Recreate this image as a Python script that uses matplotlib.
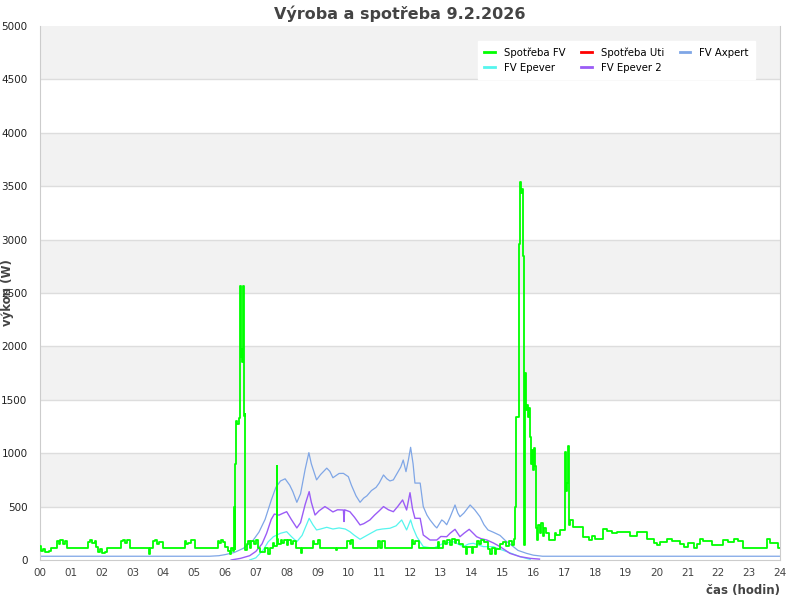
import matplotlib
matplotlib.use('Agg')
import matplotlib.pyplot as plt
from matplotlib.lines import Line2D

# Spotreba FV (hodiny, W) - schodovity prubeh
fv_t = [0.00, 0.03, 0.10, 0.15, 0.30, 0.37, 0.54, 0.60, 0.65, 0.75, 0.80, 0.87,
        1.56, 1.62, 1.70, 1.78, 1.83, 1.88, 1.95, 2.00, 2.10, 2.16,
        2.62, 2.70, 2.75, 2.82, 2.92, 3.55, 3.58, 3.65, 3.72, 3.80, 3.87, 3.99,
        4.70, 4.75, 4.80, 4.90, 5.03, 5.77, 5.82, 5.88, 5.95, 6.00, 6.10, 6.15,
        6.20, 6.27, 6.29, 6.31, 6.33, 6.35, 6.40, 6.45, 6.49, 6.51, 6.52, 6.54,
        6.56, 6.58, 6.59, 6.61, 6.64, 6.66, 6.70, 6.75, 6.80, 6.85, 6.95, 7.00,
        7.07, 7.15, 7.30, 7.40, 7.45, 7.55, 7.60, 7.68, 7.70, 7.72, 7.80, 7.85,
        7.90, 8.00, 8.05, 8.15, 8.20, 8.30, 8.45, 8.50, 8.85, 8.90, 9.00, 9.08,
        9.60, 9.62, 9.95, 10.05, 10.10, 10.16, 10.97, 11.03, 11.10, 11.18,
        12.05, 12.10, 12.15, 12.30, 12.90, 12.95, 13.07, 13.15, 13.20, 13.30,
        13.35, 13.45, 13.50, 13.60, 13.72, 13.80, 13.85, 14.00, 14.05, 14.17,
        14.25, 14.30, 14.40, 14.53, 14.60, 14.65, 14.75, 14.80, 14.92, 15.00,
        15.10, 15.20, 15.30, 15.38, 15.42, 15.45, 15.52, 15.57, 15.60, 15.63,
        15.66, 15.68, 15.70, 15.73, 15.76, 15.79, 15.82, 15.85, 15.90, 15.93,
        15.96, 16.00, 16.02, 16.05, 16.08, 16.10, 16.12, 16.15, 16.20, 16.25,
        16.30, 16.35, 16.40, 16.50, 16.70, 16.75, 16.87, 17.03, 17.05, 17.08,
        17.12, 17.15, 17.20, 17.30, 17.60, 17.80, 17.90, 18.00, 18.27, 18.40,
        18.55, 18.70, 19.14, 19.35, 19.70, 19.90, 20.00, 20.10, 20.33, 20.50,
        20.76, 20.90, 21.00, 21.20, 21.30, 21.40, 21.50, 21.80, 22.15, 22.30,
        22.50, 22.65, 22.80, 23.58, 23.68, 23.95, 24.00]
fv_w = [130, 80, 100, 75, 80, 110, 180, 150, 185, 150, 180, 110,
        170, 185, 160, 175, 120, 75, 100, 70, 75, 110,
        175, 185, 160, 185, 110, 60, 110, 175, 185, 150, 170, 110,
        180, 150, 160, 185, 110, 180, 160, 185, 170, 120, 80, 60,
        110, 80, 500, 100, 900, 1300, 1270, 1330, 2570, 1950, 1900, 1980,
        1850, 2000, 2570, 1350, 1370, 90, 150, 180, 110, 180, 150, 185,
        110, 75, 110, 60, 110, 160, 130, 880, 200, 150, 185, 160,
        190, 140, 185, 150, 180, 110, 70, 110, 180, 150, 185, 110,
        90, 110, 180, 150, 185, 110, 180, 110, 180, 110,
        185, 150, 180, 110, 170, 110, 180, 150, 190, 140,
        200, 160, 185, 150, 125, 60, 125, 70, 125, 180,
        150, 190, 170, 100, 60, 110, 60, 100, 150, 170,
        130, 180, 140, 200, 500, 1340, 2960, 3540, 3440, 3470,
        3450, 2850, 140, 1750, 1400, 1450, 1340, 1420, 1150, 900,
        1030, 840, 1050, 880, 530, 300, 190, 330, 250, 345,
        220, 300, 250, 190, 250, 230, 280, 1010, 650, 720,
        1067, 330, 375, 312, 218, 190, 225, 200, 290, 270,
        250, 260, 225, 260, 195, 160, 140, 170, 200, 180,
        150, 120, 160, 110, 150, 200, 180, 140, 190, 170,
        200, 175, 110, 195, 156, 110, 110]

# FV Axpert
ax_t = [0.0, 5.5, 5.8, 6.0, 6.3, 6.6, 6.9, 7.1, 7.3, 7.5, 7.65, 7.8, 7.95, 8.1,
        8.2, 8.33, 8.45, 8.6, 8.72, 8.8, 8.97, 9.1, 9.3, 9.4, 9.5, 9.6, 9.7,
        9.84, 10.0, 10.1, 10.25, 10.38, 10.5, 10.6, 10.75, 10.9, 11.0, 11.14,
        11.25, 11.35, 11.46, 11.6, 11.7, 11.78, 11.87, 11.95, 12.02, 12.1,
        12.16, 12.33, 12.43, 12.55, 12.65, 12.8, 12.87, 13.03, 13.1, 13.19,
        13.3, 13.46, 13.55, 13.62, 13.75, 13.95, 14.1, 14.27, 14.4, 14.53,
        14.7, 14.92, 15.1, 15.35, 15.5, 15.78, 16.0, 16.3, 24.0]
ax_w = [35, 35, 40, 50, 70, 110, 180, 260, 380, 560, 680, 740, 760, 700,
        640, 540, 620, 850, 1005, 900, 750, 800, 860, 830, 770, 790, 810,
        811, 780, 700, 600, 540, 580, 600, 650, 680, 720, 796,
        760, 740, 750, 820, 870, 936, 827, 940, 1055, 900,
        720, 720, 500, 420, 375, 320, 300, 375, 360, 330,
        400, 515, 440, 405, 440, 515, 470, 405, 330, 281,
        260, 230, 180, 125, 90, 62, 45, 35, 35]

# FV Epever 2
ep2_t = [6.2, 6.5, 6.8, 7.0, 7.2, 7.35, 7.5, 7.6, 7.75, 7.9, 8.0, 8.15, 8.33,
         8.45, 8.6, 8.73, 8.8, 8.92, 9.05, 9.24, 9.35, 9.5, 9.65, 9.84, 9.86,
         9.88, 10.05, 10.2, 10.38, 10.5, 10.7, 10.85, 11.0, 11.14, 11.3, 11.46,
         11.6, 11.76, 11.89, 12.0, 12.08, 12.16, 12.33, 12.43, 12.65, 12.87,
         13.0, 13.19, 13.3, 13.46, 13.62, 13.75, 13.92, 14.05, 14.16, 14.3,
         14.49, 14.7, 14.92, 15.24, 15.57, 15.9, 16.2]
ep2_w = [0, 15, 40, 80, 150, 250, 380, 430, 420, 440, 452, 380, 300,
         350, 520, 640, 540, 421, 460, 500, 480, 450, 470, 468, 360,
         470, 452, 400, 328, 340, 375, 420, 460, 500, 470, 452,
         500, 562, 468, 630, 480, 390, 390, 234, 187, 187,
         220, 218, 250, 287, 218, 250, 287, 250, 218, 200,
         187, 160, 125, 62, 31, 15, 8]

# FV Epever
ep_t = [6.8, 7.0, 7.24, 7.4, 7.57, 7.8, 8.0, 8.15, 8.33, 8.5, 8.73, 8.85, 8.97,
        9.1, 9.3, 9.5, 9.7, 9.9, 10.05, 10.2, 10.38, 10.6, 10.92, 11.1, 11.35,
        11.55, 11.73, 11.89, 12.02, 12.1, 12.22, 12.43, 12.76, 13.08, 13.41,
        13.55, 13.73, 13.9, 14.05, 14.38, 14.7, 14.92, 15.14, 15.57, 15.9]
ep_w = [0, 20, 94, 170, 218, 250, 265, 220, 171, 230, 390, 330, 281,
        290, 306, 290, 300, 290, 265, 230, 194, 230, 281, 290, 297,
        320, 375, 281, 375, 300, 218, 125, 110, 156, 171,
        150, 125, 150, 156, 125, 125, 100, 78, 31, 5]

hodiny = ['%02d' % h for h in range(25)]

c_fv = '#00ff00'
c_uti = '#ff0000'
c_ax = '#7fa6e6'
c_ep = '#55f5ee'
c_ep2 = '#9b5cf6'

fig = plt.figure(figsize=(8, 6), dpi=100)
ax = fig.add_axes([0.05, 0.0667, 0.925, 0.89])

# stridave pruhy pozadi
for k in range(10):
    if k % 2 == 1:
        ax.axhspan(k * 500, (k + 1) * 500, color='#f2f2f2', zorder=0, lw=0)
for k in range(1, 10):
    ax.axhline(k * 500, color='#dddddd', lw=1, zorder=0.5)

ax.plot(ax_t, ax_w, color=c_ax, lw=0.9, zorder=2)
ax.plot(ep_t, ep_w, color=c_ep, lw=0.9, zorder=3)
ax.plot(ep2_t, ep2_w, color=c_ep2, lw=1.0, zorder=4)
ax.step(fv_t, fv_w, where='post', color=c_fv, lw=1.3, zorder=5)

ax.set_xlim(0, 24)
ax.set_ylim(0, 5000)
ax.set_xticks(range(25))
ax.set_xticklabels(hodiny)
ax.set_yticks(range(0, 5001, 500))
ax.tick_params(axis='both', length=0, labelsize=7.5)
ax.tick_params(axis='x', colors='#444444', pad=6)
ax.tick_params(axis='y', colors='#222222', pad=9)

for s in ['left', 'bottom', 'right']:
    ax.spines[s].set_color('#cccccc')
ax.spines['top'].set_visible(False)

ax.set_ylabel('výkon (W)', fontsize=8.5, fontweight='bold', color='#444444')
ax.yaxis.set_label_coords(-0.035, 0.5)
ax.set_xlabel('čas (hodin)', fontsize=8.5, fontweight='bold', color='#444444', loc='right')
ax.xaxis.set_label_coords(1.0, -0.045)

fig.suptitle('Výroba a spotřeba 9.2.2026', fontsize=11.5, fontweight='bold',
             color='#444444', x=0.5, y=0.99)

handles = [Line2D([], [], color=c_fv, lw=2), Line2D([], [], color=c_ep, lw=2),
           Line2D([], [], color=c_uti, lw=2), Line2D([], [], color=c_ep2, lw=2),
           Line2D([], [], color=c_ax, lw=2)]
labels = ['Spotřeba FV', 'FV Epever', 'Spotřeba Uti', 'FV Epever 2', 'FV Axpert']
leg = ax.legend(handles, labels, ncol=3, loc='upper right', bbox_to_anchor=(0.973, 0.981),
                fontsize=7.3, frameon=True, fancybox=False, handlelength=1.0,
                handletextpad=0.9, columnspacing=1.6, borderpad=0.6, labelspacing=0.5)
leg.get_frame().set_facecolor('white')
leg.get_frame().set_edgecolor('white')
leg.get_frame().set_alpha(1)

fig.savefig('out.png', dpi=100)
